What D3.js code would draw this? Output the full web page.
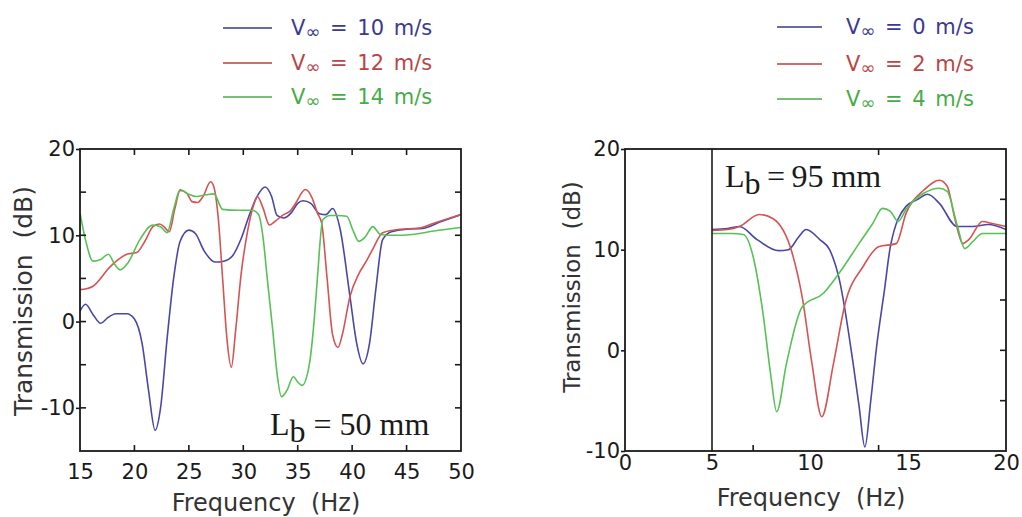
<!DOCTYPE html>
<html>
<head>
<meta charset="utf-8">
<script src="https://cdn.jsdelivr.net/npm/d3@7"></script>
<style>
  html, body { margin: 0; padding: 0; background: #ffffff; }
  svg { display: block; }
</style>
</head>
<body>
<script>
// Transmission spectra for two baffle lengths at several free-stream speeds.

// --- Lb = 50 mm panel: [frequency (Hz), transmission (dB)] ---
const lb50Speeds = ["10", "12", "14"];
const lb50_v10 = [[15,1.2],[15.5,2.0],[16.2,0.8],[16.9,-0.2],[17.5,0.4],[18.3,0.9],[19.3,0.9],[20.0,0.3],
  [20.7,-2.5],[21.3,-8],[21.9,-12.6],[22.4,-10],[23.0,-2],[23.6,5],[24.2,9.3],[25.0,10.6],[25.6,10.2],
  [26.4,8.2],[27.4,6.9],[28.2,7.0],[29.0,7.6],[29.8,9.6],[30.6,12.5],[31.4,14.8],[32.0,15.6],[32.6,14.5],
  [33.1,12.3],[33.7,12.0],[34.4,12.6],[35.0,13.7],[35.5,14.0],[36.2,13.7],[37.0,12.5],[37.6,12.4],
  [38.2,13.1],[38.9,10.7],[39.8,2.9],[40.4,-2.4],[41.0,-4.9],[41.6,-2.5],[42.2,4],[42.8,9.5],[43.6,10.4],
  [45,10.7],[46.5,10.8],[48,11.5],[50,12.4]];
const lb50_v12 = [[15,3.7],[15.6,3.8],[16.2,4.1],[17.8,6.4],[19.3,7.8],[20.2,8.0],[21.0,9.4],[21.7,11.0],
  [22.3,11.3],[22.8,10.9],[23.2,10.4],[23.7,13],[24.2,15.2],[24.8,14.9],[25.3,13.9],[25.8,13.8],[26.3,14.5],
  [27.0,16.2],[27.3,15.6],[27.7,12],[28.1,5],[28.5,-2],[28.9,-5.3],[29.3,-1],[29.8,5.5],[30.4,10.5],
  [30.9,13.3],[31.3,14.5],[31.8,13.2],[32.4,11.2],[32.9,11.6],[33.7,12.4],[34.3,12.8],[34.9,13.9],
  [35.3,14.8],[35.7,15.3],[36.3,14.4],[36.8,12.6],[37.2,11.4],[37.7,5],[38.2,-1.5],[38.7,-3.0],[39.1,-1.5],
  [39.8,2.9],[40.6,5.5],[41.3,7.0],[41.9,8.4],[42.8,10.3],[44.4,10.7],[46,10.8],[47.5,11.4],[50,12.4]];
const lb50_v14 = [[15,12.6],[15.5,9.5],[16.2,7.0],[16.9,7.2],[17.6,7.8],[18.2,6.6],[18.7,6.0],[19.4,6.8],
  [20.5,9.5],[21.7,11.2],[22.4,11.0],[23.0,10.3],[23.6,13],[24.2,15.3],[24.9,14.8],[25.7,14.5],[26.6,14.7],
  [27.3,14.8],[28.1,13.0],[29.5,12.9],[30.8,12.9],[31.4,12.4],[31.8,9.9],[32.2,5],[32.7,-0.9],[33.1,-6],
  [33.5,-8.7],[34.0,-8.0],[34.6,-6.4],[35.0,-7.0],[35.4,-7.4],[36.1,-4.7],[36.5,0],[36.8,4.9],[37.3,11.8],
  [38.0,12.3],[38.6,12.3],[39.5,12.2],[40.1,10.5],[40.6,9.3],[41.2,9.8],[41.9,11.0],[42.6,10.1],[43.8,10.0],
  [45.5,10.1],[47.5,10.5],[50,10.9]];

// --- Lb = 95 mm panel ---
const lb95Speeds = ["0", "2", "4"];
const lb95_v0 = [[5,12.0],[5.8,12.1],[6.4,12.3],[7.3,11.0],[8.4,9.9],[8.9,10.0],[9.4,11.2],[9.8,12.0],
  [10.5,11.0],[11.0,10.0],[11.5,7.0],[12.2,-1.3],[12.5,-5.5],[12.8,-9.6],[13.1,-5],[13.4,0.4],[13.8,6],
  [14.1,10.3],[14.9,14.3],[15.5,15.0],[16.0,15.5],[16.6,14.6],[17.5,12.3],[18.3,12.3],[19.1,12.5],[20,12.0]];
const lb95_v2 = [[5,11.9],[5.8,12.0],[6.4,12.3],[7.4,13.5],[8.1,13.1],[9.1,9.6],[9.6,5.3],[10.1,-1.3],
  [10.6,-6.6],[11.2,-1.3],[11.8,4.7],[12.7,8.3],[13.5,10.3],[14.4,10.6],[14.9,13.6],[15.8,15.9],[16.6,16.9],
  [17.0,16.3],[17.4,13],[17.8,10.6],[18.1,11.0],[18.8,12.8],[19.3,12.6],[20,12.3]];
const lb95_v4 = [[5,11.6],[6.0,11.6],[6.6,11.5],[7.1,9.3],[7.6,3.7],[8.0,-2.5],[8.3,-6.1],[8.8,-1.3],
  [9.6,4.3],[10.7,5.7],[11.5,7.7],[12.5,10.6],[13.2,12.6],[13.7,14.1],[14.1,13.8],[14.5,12.8],[14.9,14.0],
  [15.8,15.6],[16.6,16.1],[17.0,15.8],[17.5,12.5],[17.9,10.1],[18.3,10.8],[18.8,11.6],[20,11.6]];

// axis tick labels and frame ticks
const lb50XTicks = [15, 20, 25, 30, 35, 40, 45, 50];
const lb50YTicks = [-10, 0, 10, 20];
const lb50Minor = [-10, -5, 0, 5, 10, 15];
const lb95XTicks = [0, 5, 10, 15, 20];
const lb95YTicks = [-10, 0, 10, 20];
const lb95Minor = [-5, 0, 5, 10, 15];
const lb95BottomTicks = [7.1, 13.5];
const lb95TopTicks = [13.5];

const lineColors = ["#4848a6", "#d45454", "#56c256"];
const legendLineColors = ["#6a6aa8", "#c87070", "#78c078"];
const legendTextColors = ["#3a3a92", "#b84646", "#46ac46"];

const SANS = "DejaVu Sans, sans-serif";
const SERIF = "Liberation Serif, Times New Roman, serif";
const plainInt = d => String(d); // hyphen-minus labels

const svg = d3.select("body").append("svg")
  .attr("width", 1022).attr("height", 517);

const clipId = (i) => "clip" + i;

function drawPanel(cfg, idx) {
  const { x, y, series } = cfg;
  const [x0, x1] = [x.range()[0], x.range()[x.range().length - 1]];
  const [yb, yt] = y.range();
  const g = svg.append("g");

  g.append("clipPath").attr("id", clipId(idx))
    .append("rect").attr("x", x0).attr("y", yt).attr("width", x1 - x0).attr("height", yb - yt);

  const line = d3.line()
    .x(d => x(d[0])).y(d => y(d[1]))
    .curve(d3.curveMonotoneX);

  g.append("g").attr("clip-path", `url(#${clipId(idx)})`)
    .selectAll("path").data(series).join("path")
    .attr("d", d => line(d))
    .attr("fill", "none")
    .attr("stroke", (d, i) => lineColors[i])
    .attr("stroke-width", 1.6)
    .attr("stroke-linejoin", "round");

  // frame
  g.append("rect")
    .attr("x", x0).attr("y", yt).attr("width", x1 - x0).attr("height", yb - yt)
    .attr("fill", "none").attr("stroke", "#1a1a1a").attr("stroke-width", 1.8);

  // inward frame ticks
  const tk = 6;
  const tg = g.append("g").attr("stroke", "#1a1a1a").attr("stroke-width", 1.6);
  tg.append("g").selectAll("line").data(cfg.rightTicks).join("line")
    .attr("x1", x1).attr("x2", x1 - tk).attr("y1", d => y(d)).attr("y2", d => y(d));
  tg.append("g").selectAll("line").data(cfg.leftTicks).join("line")
    .attr("x1", x0).attr("x2", x0 + tk).attr("y1", d => y(d)).attr("y2", d => y(d));
  tg.append("g").selectAll("line").data(cfg.topTicks).join("line")
    .attr("x1", d => x(d)).attr("x2", d => x(d)).attr("y1", yt).attr("y2", yt + tk);
  tg.append("g").selectAll("line").data(cfg.bottomTicks).join("line")
    .attr("x1", d => x(d)).attr("x2", d => x(d)).attr("y1", yb).attr("y2", yb - tk);

  // y axis labels
  const ya = g.append("g").attr("transform", `translate(${x0},0)`)
    .call(d3.axisLeft(y).tickValues(cfg.yTicks).tickFormat(plainInt)
      .tickSize(4).tickPadding(1).tickSizeOuter(0));
  ya.select(".domain").remove();
  ya.selectAll(".tick line").attr("stroke", "#1a1a1a").attr("stroke-width", 1.6);
  ya.selectAll("text").attr("font-size", cfg.tickFont).attr("fill", "#1a1a1a")
    .attr("font-family", SANS);

  // x axis labels
  const xa = g.append("g").attr("transform", `translate(0,${yb})`)
    .call(d3.axisBottom(x).tickValues(cfg.xTicks).tickFormat(plainInt)
      .tickSize(0).tickPadding(cfg.xPad));
  xa.select(".domain").remove();
  xa.selectAll("text").attr("font-size", cfg.tickFont).attr("fill", "#1a1a1a")
    .attr("font-family", SANS);

  // axis titles
  g.append("text")
    .attr("x", cfg.xTitle[0]).attr("y", cfg.xTitle[1])
    .attr("text-anchor", "middle").attr("font-size", cfg.titleFont).attr("fill", "#333")
    .attr("font-family", SANS)
    .style("white-space", "pre")
    .text("Frequency  (Hz)");
  g.append("text")
    .attr("transform", `translate(${cfg.yTitle[0]},${cfg.yTitle[1]}) rotate(-90)`)
    .attr("text-anchor", "middle").attr("font-size", cfg.yTitleFont).attr("fill", "#333")
    .attr("font-family", SANS)
    .style("white-space", "pre")
    .text("Transmission  (dB)");

  // Lb annotation (serif, lowered b)
  const ann = g.append("text")
    .attr("x", cfg.ann.x).attr("y", cfg.ann.y)
    .attr("font-family", SERIF)
    .attr("font-size", 32).attr("fill", "#1a1a1a")
    .style("white-space", "pre");
  ann.append("tspan").text("L");
  ann.append("tspan").attr("dy", 7).text("b");
  ann.append("tspan").attr("dy", -7).text(cfg.ann.rest);

  // legend
  const lg = g.append("g");
  cfg.legendLabels.forEach((lab, i) => {
    const ly = cfg.legend.rows[i];
    lg.append("line")
      .attr("x1", cfg.legend.x1).attr("x2", cfg.legend.x2)
      .attr("y1", ly).attr("y2", ly)
      .attr("stroke", legendLineColors[i]).attr("stroke-width", 1.8);
    const t = lg.append("text")
      .attr("x", cfg.legend.tx).attr("y", ly + 7)
      .attr("font-family", SANS)
      .attr("font-size", 21).attr("fill", legendTextColors[i])
      .attr("word-spacing", 3)
      .style("white-space", "pre");
    t.append("tspan").text("V");
    t.append("tspan").attr("font-size", 18).attr("dy", 3).text("\u221e");
    t.append("tspan").attr("dy", -3).text(" = " + lab + " m/s");
  });
}

// Lb = 50 mm
const x50 = d3.scaleLinear().domain([15, 50]).range([80, 461]);
const y50 = d3.scaleLinear().domain([-15, 20]).range([451, 149]);
drawPanel({
  x: x50, y: y50,
  series: [lb50_v10, lb50_v12, lb50_v14],
  xTicks: lb50XTicks, yTicks: lb50YTicks,
  leftTicks: lb50Minor, rightTicks: lb50Minor,
  topTicks: lb50XTicks.slice(1, -1), bottomTicks: lb50XTicks.slice(1, -1),
  tickFont: 21, xPad: 13, titleFont: 24, yTitleFont: 25,
  xTitle: [266, 511], yTitle: [32, 301],
  ann: { x: 270, y: 435, rest: " = 50 mm" },
  legendLabels: lb50Speeds,
  legend: { x1: 223, x2: 272, tx: 291, rows: [28, 63, 97] }
}, 0);

// Lb = 95 mm (frequency axis opens at 0 with the data starting at 5 Hz)
const x95 = d3.scaleLinear().domain([0, 5, 20]).range([625, 712, 1006]);
const y95 = d3.scaleLinear().domain([-10, 20]).range([451, 149]);
drawPanel({
  x: x95, y: y95,
  series: [lb95_v0, lb95_v2, lb95_v4],
  xTicks: lb95XTicks, yTicks: lb95YTicks,
  leftTicks: [], rightTicks: lb95Minor,
  topTicks: lb95TopTicks, bottomTicks: lb95BottomTicks,
  tickFont: 21, xPad: 4, titleFont: 24, yTitleFont: 23,
  xTitle: [811, 506], yTitle: [580, 287],
  ann: { x: 725, y: 187, rest: "\u2009=\u200995 mm" },
  legendLabels: lb95Speeds,
  legend: { x1: 777, x2: 822, tx: 846, rows: [27, 64, 99] }
}, 1);

// vertical rule at 5 Hz where the measured range starts
svg.append("line")
  .attr("x1", x95(5)).attr("x2", x95(5))
  .attr("y1", y95(20)).attr("y2", y95(-10))
  .attr("stroke", "#1a1a1a").attr("stroke-width", 1.6);
</script>
</body>
</html>
